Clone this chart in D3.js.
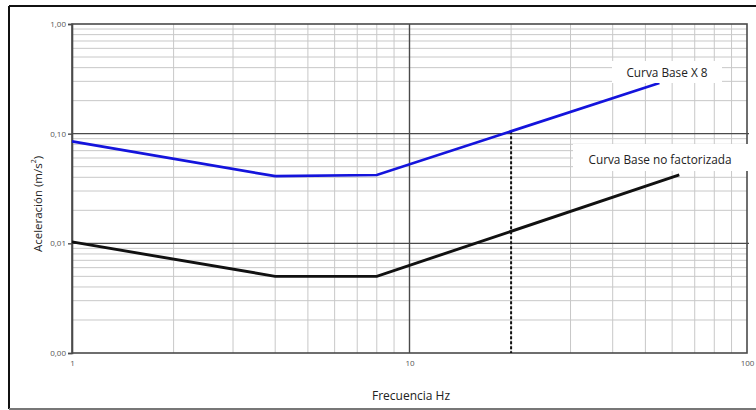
<!DOCTYPE html>
<html>
<head>
<meta charset="utf-8">
<script src="https://cdn.jsdelivr.net/npm/d3@7"></script>
<style>
  html, body { margin: 0; padding: 0; background: #fff; }
  svg { display: block; }
  text { font-family: "Open Sans", "DejaVu Sans", sans-serif; }
</style>
</head>
<body>
<svg id="chart" width="756" height="410"></svg>
<script>
// Frequency (Hz) break points of each curve
const baseFreq = [1, 4, 8, 63];
const baseAccel = [0.0103, 0.005, 0.005, 0.042];
const x8Freq = [1, 4, 8, 55];
const x8Accel = [0.085, 0.041, 0.042, 0.29];

// Axis tick values and labels
const yTicks = [0.001, 0.01, 0.1, 1];
const yTickLabels = ["0,00", "0,01", "0,10", "1,00"];
const xTicks = [1, 10, 100];
const xTickLabels = ["1", "10", "100"];

// Reference frequency marked with the dotted line, and where it starts on the upper curve
const markFreq = [20];
const markAccel = [0.105];

const seriesNames = ["Curva Base X 8", "Curva Base no factorizada"];

const svg = d3.select("#chart");
const W = 756, H = 410;
const mLeft = 72, mRight = 747, mTop = 24, mBottom = 353;

const x = d3.scaleLog().domain([1, 100]).range([mLeft, mRight]);
const y = d3.scaleLog().domain([0.001, 1]).range([mBottom, mTop]);

// outer frame
svg.append("line").attr("x1", 9).attr("x2", W).attr("y1", 6).attr("y2", 6)
  .attr("stroke", "#111").attr("stroke-width", 2);
svg.append("line").attr("x1", 9).attr("x2", 9).attr("y1", 6).attr("y2", 409)
  .attr("stroke", "#111").attr("stroke-width", 2);
svg.append("line").attr("x1", 9).attr("x2", W).attr("y1", 409).attr("y2", 409)
  .attr("stroke", "#777").attr("stroke-width", 2);

// minor grid values
const minorX = [], minorY = [];
for (const d of [1, 10]) for (let k = 2; k <= 9; k++) minorX.push(d * k);
for (const d of [0.001, 0.01, 0.1]) for (let k = 2; k <= 9; k++) minorY.push(+(d * k).toPrecision(3));

const grid = svg.append("g");
grid.selectAll(".mx").data(minorX).join("line")
  .attr("x1", d => x(d)).attr("x2", d => x(d))
  .attr("y1", mTop).attr("y2", mBottom)
  .attr("stroke", "#c8c8c8").attr("stroke-width", 1);
grid.selectAll(".my").data(minorY).join("line")
  .attr("x1", mLeft).attr("x2", mRight)
  .attr("y1", d => y(d)).attr("y2", d => y(d))
  .attr("stroke", "#c8c8c8").attr("stroke-width", 1);
// decade lines
grid.selectAll(".Mx").data([10]).join("line")
  .attr("x1", d => x(d)).attr("x2", d => x(d))
  .attr("y1", mTop).attr("y2", mBottom)
  .attr("stroke", "#4a4a4a").attr("stroke-width", 1.4);
grid.selectAll(".My").data([0.01, 0.1]).join("line")
  .attr("x1", mLeft).attr("x2", mRight + 2)
  .attr("y1", d => y(d)).attr("y2", d => y(d))
  .attr("stroke", "#4a4a4a").attr("stroke-width", 1.4);

// plot frame
svg.append("rect").attr("x", mLeft).attr("y", mTop)
  .attr("width", mRight - mLeft).attr("height", mBottom - mTop)
  .attr("fill", "none").attr("stroke", "#4a4a4a").attr("stroke-width", 1.6);

// axes
const yAxis = d3.axisLeft(y).tickValues(yTicks).tickSize(4)
  .tickFormat((d, i) => yTickLabels[i]);
const gy = svg.append("g").attr("transform", `translate(${mLeft},0)`).call(yAxis);
gy.select(".domain").attr("stroke", "#4a4a4a").attr("stroke-width", 1.6);
gy.selectAll(".tick line").attr("stroke", "#4a4a4a").attr("stroke-width", 1.4);
gy.selectAll(".tick text").attr("font-size", 8).attr("fill", "#555")
  .attr("font-family", "'Open Sans', sans-serif").attr("x", -6);

const xAxis = d3.axisBottom(x).tickValues(xTicks).tickSize(0)
  .tickFormat((d, i) => xTickLabels[i]);
const gx = svg.append("g").attr("transform", `translate(0,${mBottom})`).call(xAxis);
gx.select(".domain").remove();
gx.selectAll(".tick text").attr("font-size", 8).attr("fill", "#555")
  .attr("font-family", "'Open Sans', sans-serif").attr("dy", "1.2em");

// dotted marker line at the reference frequency
svg.selectAll(".mark").data(d3.zip(markFreq, markAccel)).join("line")
  .attr("x1", d => x(d[0])).attr("x2", d => x(d[0]))
  .attr("y1", d => y(d[1])).attr("y2", mBottom)
  .attr("stroke", "#111").attr("stroke-width", 2).attr("stroke-dasharray", "3,2");

// curves
const line = d3.line().x(d => x(d[0])).y(d => y(d[1]));
svg.append("path").datum(d3.zip(x8Freq, x8Accel)).attr("d", line)
  .attr("fill", "none").attr("stroke", "#1414dc").attr("stroke-width", 2.7);
svg.append("path").datum(d3.zip(baseFreq, baseAccel)).attr("d", line)
  .attr("fill", "none").attr("stroke", "#111").attr("stroke-width", 2.9);

// curve labels on white boxes
function label(text, cx, cy, bx0, bx1, by0, by1) {
  svg.append("rect").attr("x", bx0).attr("y", by0)
    .attr("width", bx1 - bx0).attr("height", by1 - by0).attr("fill", "#fff");
  svg.append("text").attr("x", cx).attr("y", cy).attr("text-anchor", "middle")
    .attr("dominant-baseline", "central").attr("font-size", 11.8).attr("fill", "#222")
    .text(text);
}
label(seriesNames[0], 667, 72, 612, 722, 61, 83);
label(seriesNames[1], 660, 159, 573, 756, 144, 171);

// axis titles
svg.append("text").attr("x", 411).attr("y", 395).attr("text-anchor", "middle")
  .attr("dominant-baseline", "central").attr("font-size", 12).attr("fill", "#222")
  .text("Frecuencia Hz");
const yt = svg.append("text").attr("transform", "translate(37,204) rotate(-90)")
  .attr("text-anchor", "middle").attr("dominant-baseline", "central")
  .attr("font-size", 11.5).attr("fill", "#222");
yt.append("tspan").text("Aceleración (m/s");
yt.append("tspan").attr("font-size", 7).attr("dy", -4).text("2");
yt.append("tspan").attr("dy", 4).text(")");
</script>
</body>
</html>
